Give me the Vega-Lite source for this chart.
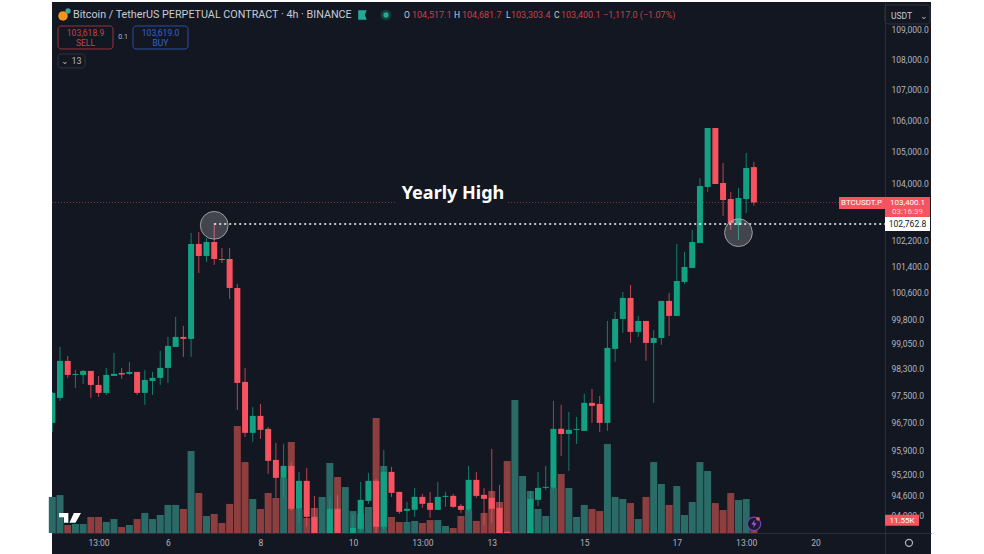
{
  "$schema": "https://vega.github.io/schema/vega-lite/v6.json",
  "width": 879,
  "height": 552,
  "padding": {"left": 52, "top": 2, "right": 53, "bottom": 0},
  "autosize": {"type": "none"},
  "background": "#ffffff",
  "view": {"fill": "#131722", "stroke": null},
  "config": {
    "text": {"font": "Roboto"},
    "axis": {"labelFont": "Roboto", "labelFontSize": 8.5, "labelColor": "#b2b5be", "grid": false, "ticks": false, "title": null, "domainColor": "#2a2e39"}
  },
  "datasets": {
    "candles": [
      {"t":"2025-01-03T13:00Z","open":96698,"high":97613,"low":96434,"close":97583,"volume":32.0},
      {"t":"2025-01-03T17:00Z","open":97435,"high":98958,"low":97347,"close":98537,"volume":33.7},
      {"t":"2025-01-03T21:00Z","open":98537,"high":98687,"low":98029,"close":98118,"volume":7.1},
      {"t":"2025-01-04T01:00Z","open":98118,"high":98268,"low":97731,"close":98148,"volume":8.0},
      {"t":"2025-01-04T05:00Z","open":98118,"high":98268,"low":97850,"close":98238,"volume":8.0},
      {"t":"2025-01-04T09:00Z","open":98238,"high":98238,"low":97435,"close":97820,"volume":14.2},
      {"t":"2025-01-04T13:00Z","open":97820,"high":98088,"low":97465,"close":97583,"volume":14.2},
      {"t":"2025-01-04T17:00Z","open":97583,"high":98328,"low":97524,"close":98118,"volume":9.8},
      {"t":"2025-01-04T21:00Z","open":98088,"high":98778,"low":98088,"close":98148,"volume":12.4},
      {"t":"2025-01-05T01:00Z","open":98178,"high":98328,"low":98000,"close":98130,"volume":5.3},
      {"t":"2025-01-05T05:00Z","open":98148,"high":98507,"low":98118,"close":98208,"volume":7.1},
      {"t":"2025-01-05T09:00Z","open":98208,"high":98208,"low":97524,"close":97583,"volume":12.4},
      {"t":"2025-01-05T13:00Z","open":97583,"high":98268,"low":97229,"close":97969,"volume":17.8},
      {"t":"2025-01-05T17:00Z","open":97939,"high":98208,"low":97524,"close":98029,"volume":12.4},
      {"t":"2025-01-05T21:00Z","open":98029,"high":98838,"low":97820,"close":98328,"volume":16.0},
      {"t":"2025-01-06T01:00Z","open":98328,"high":99259,"low":97880,"close":98988,"volume":24.9},
      {"t":"2025-01-06T05:00Z","open":98958,"high":99864,"low":98958,"close":99259,"volume":24.9},
      {"t":"2025-01-06T09:00Z","open":99259,"high":99591,"low":98657,"close":99198,"volume":21.3},
      {"t":"2025-01-06T13:00Z","open":99198,"high":102446,"low":98657,"close":102104,"volume":72.8},
      {"t":"2025-01-06T17:00Z","open":102104,"high":102477,"low":101208,"close":101732,"volume":35.5},
      {"t":"2025-01-06T21:00Z","open":101732,"high":102290,"low":101546,"close":102166,"volume":15.1},
      {"t":"2025-01-07T01:00Z","open":102166,"high":102757,"low":101454,"close":101639,"volume":16.9},
      {"t":"2025-01-07T05:00Z","open":101639,"high":101980,"low":101516,"close":101608,"volume":8.9},
      {"t":"2025-01-07T09:00Z","open":101639,"high":101980,"low":100412,"close":100747,"volume":25.8},
      {"t":"2025-01-07T13:00Z","open":100747,"high":100870,"low":97081,"close":97880,"volume":95.0},
      {"t":"2025-01-07T17:00Z","open":97910,"high":98328,"low":96287,"close":96405,"volume":63.0},
      {"t":"2025-01-07T21:00Z","open":96405,"high":97170,"low":96141,"close":96904,"volume":30.2},
      {"t":"2025-01-08T01:00Z","open":96904,"high":97258,"low":96229,"close":96493,"volume":21.3},
      {"t":"2025-01-08T05:00Z","open":96522,"high":96581,"low":95210,"close":95587,"volume":35.5},
      {"t":"2025-01-08T09:00Z","open":95616,"high":96112,"low":94519,"close":95095,"volume":31.1},
      {"t":"2025-01-08T13:00Z","open":95095,"high":96082,"low":94547,"close":95442,"volume":48.8},
      {"t":"2025-01-08T17:00Z","open":95442,"high":95558,"low":94146,"close":94204,"volume":80.8},
      {"t":"2025-01-08T21:00Z","open":94204,"high":95268,"low":93804,"close":95008,"volume":21.3},
      {"t":"2025-01-09T01:00Z","open":95008,"high":95384,"low":93691,"close":93975,"volume":13.3},
      {"t":"2025-01-09T05:00Z","open":93975,"high":94576,"low":93179,"close":93320,"volume":22.2},
      {"t":"2025-01-09T09:00Z","open":93151,"high":93491,"low":92982,"close":93320,"volume":32.0},
      {"t":"2025-01-09T13:00Z","open":93320,"high":94547,"low":93179,"close":94204,"volume":62.2},
      {"t":"2025-01-09T17:00Z","open":94204,"high":94605,"low":93179,"close":93320,"volume":49.7},
      {"t":"2025-01-09T21:00Z","open":93207,"high":93463,"low":93038,"close":93377,"volume":40.8},
      {"t":"2025-01-10T01:00Z","open":93320,"high":94032,"low":93179,"close":93662,"volume":19.5},
      {"t":"2025-01-10T05:00Z","open":93634,"high":94979,"low":93577,"close":94461,"volume":16.9},
      {"t":"2025-01-10T09:00Z","open":94432,"high":95239,"low":94347,"close":95008,"volume":23.1},
      {"t":"2025-01-10T13:00Z","open":95008,"high":95066,"low":93520,"close":93691,"volume":102.1},
      {"t":"2025-01-10T17:00Z","open":93691,"high":95907,"low":93605,"close":95268,"volume":59.5},
      {"t":"2025-01-10T21:00Z","open":95268,"high":95413,"low":94547,"close":94662,"volume":14.2},
      {"t":"2025-01-11T01:00Z","open":94691,"high":94691,"low":94061,"close":94118,"volume":9.8},
      {"t":"2025-01-11T05:00Z","open":94146,"high":94404,"low":93804,"close":94204,"volume":9.8},
      {"t":"2025-01-11T09:00Z","open":94175,"high":94806,"low":93975,"close":94547,"volume":10.7},
      {"t":"2025-01-11T13:00Z","open":94547,"high":94634,"low":94232,"close":94347,"volume":8.9},
      {"t":"2025-01-11T17:00Z","open":94375,"high":94691,"low":93946,"close":94175,"volume":11.5},
      {"t":"2025-01-11T21:00Z","open":94175,"high":94979,"low":94175,"close":94547,"volume":11.5},
      {"t":"2025-01-12T01:00Z","open":94547,"high":94691,"low":94261,"close":94576,"volume":6.2},
      {"t":"2025-01-12T05:00Z","open":94576,"high":94634,"low":94232,"close":94261,"volume":4.4},
      {"t":"2025-01-12T09:00Z","open":94289,"high":94347,"low":94089,"close":94175,"volume":15.1},
      {"t":"2025-01-12T13:00Z","open":94175,"high":95442,"low":94118,"close":95037,"volume":20.4},
      {"t":"2025-01-12T17:00Z","open":95037,"high":95268,"low":94519,"close":94576,"volume":10.7},
      {"t":"2025-01-12T21:00Z","open":94605,"high":94806,"low":93747,"close":94490,"volume":17.8},
      {"t":"2025-01-13T01:00Z","open":94519,"high":95936,"low":93804,"close":94204,"volume":37.3},
      {"t":"2025-01-13T05:00Z","open":94232,"high":94893,"low":93320,"close":93406,"volume":27.5},
      {"t":"2025-01-13T09:00Z","open":93548,"high":93548,"low":93179,"close":93377,"volume":63.9},
      {"t":"2025-01-13T13:00Z","open":93207,"high":93491,"low":92982,"close":93300,"volume":118.1},
      {"t":"2025-01-13T17:00Z","open":93207,"high":93463,"low":93038,"close":93320,"volume":50.6},
      {"t":"2025-01-13T21:00Z","open":93463,"high":94720,"low":93320,"close":94490,"volume":37.3},
      {"t":"2025-01-14T01:00Z","open":94461,"high":95268,"low":94289,"close":94806,"volume":21.3},
      {"t":"2025-01-14T05:00Z","open":94806,"high":95442,"low":94749,"close":94835,"volume":15.1},
      {"t":"2025-01-14T09:00Z","open":94806,"high":97347,"low":94749,"close":96522,"volume":40.0},
      {"t":"2025-01-14T13:00Z","open":96522,"high":97229,"low":95733,"close":96375,"volume":52.4},
      {"t":"2025-01-14T17:00Z","open":96375,"high":97022,"low":95297,"close":96493,"volume":40.0},
      {"t":"2025-01-14T21:00Z","open":96493,"high":96874,"low":96082,"close":96522,"volume":14.2},
      {"t":"2025-01-15T01:00Z","open":96463,"high":97554,"low":96463,"close":97288,"volume":24.9},
      {"t":"2025-01-15T05:00Z","open":97288,"high":97702,"low":96698,"close":97199,"volume":21.3},
      {"t":"2025-01-15T09:00Z","open":97258,"high":97494,"low":96434,"close":96698,"volume":19.5},
      {"t":"2025-01-15T13:00Z","open":96698,"high":99742,"low":96463,"close":98928,"volume":79.0},
      {"t":"2025-01-15T17:00Z","open":98898,"high":100016,"low":98507,"close":99802,"volume":32.0},
      {"t":"2025-01-15T21:00Z","open":99802,"high":100625,"low":99380,"close":100442,"volume":30.2},
      {"t":"2025-01-16T01:00Z","open":100442,"high":100839,"low":99078,"close":99410,"volume":26.6},
      {"t":"2025-01-16T05:00Z","open":99410,"high":99894,"low":99259,"close":99742,"volume":12.4},
      {"t":"2025-01-16T09:00Z","open":99742,"high":99742,"low":98537,"close":99078,"volume":32.0},
      {"t":"2025-01-16T13:00Z","open":99078,"high":99470,"low":97288,"close":99228,"volume":63.0},
      {"t":"2025-01-16T17:00Z","open":99228,"high":100351,"low":99018,"close":100351,"volume":43.5},
      {"t":"2025-01-16T21:00Z","open":100351,"high":100594,"low":99289,"close":99894,"volume":24.9},
      {"t":"2025-01-17T01:00Z","open":99894,"high":102104,"low":99894,"close":100961,"volume":41.7},
      {"t":"2025-01-17T05:00Z","open":100931,"high":101856,"low":100870,"close":101392,"volume":16.0},
      {"t":"2025-01-17T09:00Z","open":101362,"high":102539,"low":101362,"close":102166,"volume":27.5},
      {"t":"2025-01-17T13:00Z","open":102135,"high":104173,"low":102135,"close":103919,"volume":63.0},
      {"t":"2025-01-17T17:00Z","open":103888,"high":105768,"low":103730,"close":105768,"volume":55.1},
      {"t":"2025-01-17T21:00Z","open":105768,"high":105768,"low":103982,"close":103982,"volume":26.6},
      {"t":"2025-01-18T01:00Z","open":104014,"high":104649,"low":102976,"close":103478,"volume":20.4},
      {"t":"2025-01-18T05:00Z","open":103510,"high":103730,"low":102539,"close":102757,"volume":35.5},
      {"t":"2025-01-18T09:00Z","open":102695,"high":103856,"low":102228,"close":103541,"volume":29.3},
      {"t":"2025-01-18T13:00Z","open":103510,"high":104967,"low":103070,"close":104490,"volume":30.2},
      {"t":"2025-01-18T17:00Z","open":104517.1,"high":104681.7,"low":103303.4,"close":103400.1,"volume":11.55}
    ]
  },
  "data": {"name": "candles"},
  "encoding": {
    "x": {
      "field": "t",
      "type": "temporal",
      "scale": {"type": "utc", "domain": [1735908638400, 1737550368000], "nice": false, "padding": 0},
      "axis": {
        "orient": "bottom",
        "offset": -21,
        "zindex": 1,
        "labelPadding": 5,
        "labelFlush": false,
        "values": [1735995600000, 1736125200000, 1736298000000, 1736470800000, 1736600400000, 1736730000000, 1736902800000, 1737075600000, 1737205200000, 1737334800000],
        "labelExpr": "utchours(datum.value) == 13 ? '13:00' : utcdate(datum.value)"
      }
    }
  },
  "resolve": {"scale": {"y": "independent"}, "axis": {"y": "independent"}},
  "layer": [
    {
      "mark": {"type": "bar", "size": 7},
      "encoding": {
        "y": {
          "field": "volume",
          "type": "quantitative",
          "stack": null,
          "axis": null,
          "scale": {"domain": [-18.65, 471.5], "nice": false, "zero": false}
        },
        "color": {
          "condition": {"test": "datum.close >= datum.open", "value": "#2a6b67"},
          "value": "#8d3f40"
        }
      }
    },
    {
      "encoding": {
        "y": {
          "field": "price",
          "type": "quantitative",
          "scale": {"type": "log", "domain": [92919, 109898.5], "nice": false, "zero": false},
          "axis": {
            "orient": "right",
            "offset": -46,
            "labelPadding": 6,
            "format": ",.1f",
            "labelOverlap": false,
            "values": [109000, 108000, 107000, 106000, 105000, 104000, 102200, 101400, 100600, 99800, 99050, 98300, 97500, 96700, 95900, 95200, 94600, 94000]
          }
        }
      },
      "layer": [
        {
          "data": {"values": [
            {"t": 1735908638400, "t2": 1736552998000, "price": 103400.1},
            {"t": 1736760313000, "t2": 1737464437000, "price": 103400.1}
          ]},
          "mark": {"type": "rule", "color": "#7a3a42", "strokeWidth": 1, "strokeDash": [1, 2]},
          "encoding": {"x2": {"field": "t2"}}
        },
        {
          "mark": {"type": "rule", "strokeWidth": 1, "opacity": 0.75, "clip": true},
          "encoding": {
            "y": {"field": "low", "type": "quantitative"},
            "y2": {"field": "high"},
            "color": {
              "condition": {"test": "datum.close >= datum.open", "value": "#12a283"},
              "value": "#f7525f"
            }
          }
        },
        {
          "mark": {"type": "bar", "size": 6, "clip": true},
          "encoding": {
            "y": {"field": "open", "type": "quantitative"},
            "y2": {"field": "close"},
            "color": {
              "condition": {"test": "datum.close >= datum.open", "value": "#12a283"},
              "value": "#f7525f"
            }
          }
        },
        {
          "data": {"values": [
            {"t": 1735908638400, "t2": 1737464437000, "lo": 92919, "hi": 93513}
          ]},
          "mark": {"type": "rect", "color": "#131722"},
          "encoding": {
            "x2": {"field": "t2"},
            "y": {"field": "lo", "type": "quantitative"},
            "y2": {"field": "hi"}
          }
        },
        {
          "data": {"values": [
            {"t": 1736211600000, "t2": 1737464437000, "price": 102726}
          ]},
          "mark": {"type": "rule", "color": "#ffffff", "strokeWidth": 1.5, "strokeDash": [2, 3]},
          "encoding": {"x2": {"field": "t2"}}
        },
        {
          "data": {"values": [
            {"t": 1736211600000, "price": 102685},
            {"t": 1737190800000, "price": 102455}
          ]},
          "mark": {"type": "point", "filled": true, "shape": "circle", "size": 770, "fill": "#ffffff", "fillOpacity": 0.2, "stroke": "#a8a8ad", "strokeWidth": 1, "strokeOpacity": 0.9}
        },
        {
          "data": {"values": [
            {"t": 1737378523000, "t2": 1737464437000, "hi": 103573, "lo": 103195, "kind": "red"},
            {"t": 1737464437000, "t2": 1737548483000, "hi": 103573, "lo": 102944, "kind": "red"},
            {"t": 1737464437000, "t2": 1737548483000, "hi": 102944, "lo": 102508, "kind": "white"},
            {"t": 1737464437000, "t2": 1737527939000, "hi": 94032, "lo": 93719, "kind": "red"}
          ]},
          "mark": {"type": "rect"},
          "encoding": {
            "x2": {"field": "t2"},
            "y": {"field": "lo", "type": "quantitative"},
            "y2": {"field": "hi"},
            "color": {"field": "kind", "type": "nominal", "legend": null, "scale": {"domain": ["red", "white"], "range": ["#f7525f", "#ffffff"]}}
          }
        },
        {
          "data": {"values": [
            {"t": 1735919846000, "t2": 1736022570000, "hi": 109100, "lo": 108340, "kind": "sell"},
            {"t": 1736059924000, "t2": 1736162647000, "hi": 109100, "lo": 108340, "kind": "buy"},
            {"t": 1735919846000, "t2": 1735970274000, "hi": 108175, "lo": 107718, "kind": "more"},
            {"t": 1737464437000, "t2": 1737548483000, "hi": 109798, "lo": 109166, "kind": "more"}
          ]},
          "mark": {"type": "rect", "fillOpacity": 0, "cornerRadius": 3, "strokeWidth": 1},
          "encoding": {
            "x2": {"field": "t2"},
            "y": {"field": "lo", "type": "quantitative"},
            "y2": {"field": "hi"},
            "stroke": {"field": "kind", "type": "nominal", "legend": null, "scale": {"domain": ["sell", "buy", "more"], "range": ["#9c323c", "#2b4fa3", "#2f333f"]}}
          }
        },
        {
          "data": {"values": [{"t": 1736657589000, "price": 103667, "label": "Yearly High"}]},
          "mark": {"type": "text", "font": "Noto Sans", "fontWeight": "bold", "fontSize": 18, "color": "#ffffff", "align": "center", "baseline": "middle"},
          "encoding": {"text": {"field": "label"}}
        },
        {
          "data": {"values": [{"t": 1735947861000, "price": 109465, "label": "Bitcoin / TetherUS PERPETUAL CONTRACT · 4h · BINANCE"}]},
          "mark": {"type": "text", "fontSize": 10.75, "color": "#c8cbd3", "align": "left", "baseline": "middle"},
          "encoding": {"text": {"field": "label"}}
        },
        {
          "data": {"values": [
            {"t": 1736566071000, "price": 109465, "label": "O"},
            {"t": 1736659457000, "price": 109465, "label": "H"},
            {"t": 1736756577000, "price": 109465, "label": "L"},
            {"t": 1736846227000, "price": 109465, "label": "C"},
            {"t": 1737475644000, "price": 109433, "label": "USDT"}
          ]},
          "mark": {"type": "text", "fontSize": 8.5, "color": "#c8cbd3", "align": "left", "baseline": "middle"},
          "encoding": {"text": {"field": "label"}}
        },
        {
          "data": {"values": [
            {"t": 1736581013000, "price": 109465, "label": "104,517.1"},
            {"t": 1736674398000, "price": 109465, "label": "104,681.7"},
            {"t": 1736765916000, "price": 109465, "label": "103,303.4"},
            {"t": 1736859301000, "price": 109465, "label": "103,400.1"},
            {"t": 1736937844000, "price": 109465, "label": "−1,117.0 (−1.07%)"}
          ]},
          "mark": {"type": "text", "fontSize": 9, "color": "#c9404f", "align": "left", "baseline": "middle"},
          "encoding": {"text": {"field": "label"}}
        },
        {
          "data": {"values": [
            {"t": 1735971208000, "price": 108868, "label": "103,618.9"},
            {"t": 1735971208000, "price": 108537, "label": "SELL"}
          ]},
          "mark": {"type": "text", "fontSize": 8.5, "color": "#c9404f", "align": "center", "baseline": "middle"},
          "encoding": {"text": {"field": "label"}}
        },
        {
          "data": {"values": [
            {"t": 1736111286000, "price": 108868, "label": "103,619.0"},
            {"t": 1736111286000, "price": 108537, "label": "BUY"}
          ]},
          "mark": {"type": "text", "fontSize": 8.5, "color": "#3763c8", "align": "center", "baseline": "middle"},
          "encoding": {"text": {"field": "label"}}
        },
        {
          "data": {"values": [{"t": 1736041247000, "price": 108720, "label": "0.1"}]},
          "mark": {"type": "text", "fontSize": 7, "color": "#b2b5be", "align": "center", "baseline": "middle"},
          "encoding": {"text": {"field": "label"}}
        },
        {
          "data": {"values": [
            {"t": 1735945000000, "price": 107945, "label": "⌄ 13"},
            {"t": 1737537277000, "price": 109433, "label": "⌄"}
          ]},
          "mark": {"type": "text", "fontSize": 9, "color": "#b2b5be", "align": "center", "baseline": "middle"},
          "encoding": {"text": {"field": "label"}}
        },
        {
          "data": {"values": [
            {"t": 1737420545000, "price": 103384, "label": "BTCUSDT.P"},
            {"t": 1737506460000, "price": 103384, "label": "103,400.1"},
            {"t": 1737496187000, "price": 93861, "label": "11.55K"}
          ]},
          "mark": {"type": "text", "fontSize": 8, "color": "#ffffff", "align": "center", "baseline": "middle"},
          "encoding": {"text": {"field": "label"}}
        },
        {
          "data": {"values": [{"t": 1737506460000, "price": 103101, "label": "03:16:39"}]},
          "mark": {"type": "text", "fontSize": 8, "color": "#ffd5d8", "align": "center", "baseline": "middle"},
          "encoding": {"text": {"field": "label"}}
        },
        {
          "data": {"values": [{"t": 1737506460000, "price": 102726, "label": "102,762.8"}]},
          "mark": {"type": "text", "fontSize": 8.5, "color": "#131722", "align": "center", "baseline": "middle"},
          "encoding": {"text": {"field": "label"}}
        },
        {
          "data": {"values": [{"t": 1735929184000, "price": 109433}]},
          "mark": {"type": "point", "filled": true, "shape": "circle", "size": 90, "color": "#f7931a", "opacity": 1}
        },
        {
          "data": {"values": [{"t": 1735938523000, "price": 109598}]},
          "mark": {"type": "point", "filled": true, "shape": "circle", "size": 28, "color": "#3fa7a0", "opacity": 1}
        },
        {
          "data": {"values": [{"t": 1736487628000, "price": 109465}]},
          "mark": {"type": "point", "filled": true, "shape": "M-0.8 -1H1L0.6 0L1 1H-0.8Z", "size": 90, "color": "#22ab94", "opacity": 1}
        },
        {
          "data": {"values": [{"t": 1736532453000, "price": 109465}]},
          "mark": {"type": "point", "filled": true, "shape": "circle", "size": 120, "color": "#123d38", "opacity": 1}
        },
        {
          "data": {"values": [{"t": 1736532453000, "price": 109465}]},
          "mark": {"type": "point", "filled": true, "shape": "circle", "size": 28, "color": "#22ab94", "opacity": 1}
        },
        {
          "data": {"values": [{"t": 1735942258000, "price": 93946}]},
          "mark": {"type": "point", "filled": true, "shape": "M-1 -0.45H-0.15V0.45H-0.55V-0.05H-1ZM0.35 -0.45H1L0.5 0.45H-0.05Z", "size": 484, "color": "#ffffff", "opacity": 1}
        },
        {
          "data": {"values": [{"t": 1737219768000, "price": 93775}]},
          "mark": {"type": "point", "shape": "circle", "size": 180, "fill": "#1c1a33", "fillOpacity": 1, "stroke": "#7a3fc0", "strokeWidth": 1.2, "opacity": 1}
        },
        {
          "data": {"values": [{"t": 1737219768000, "price": 93775}]},
          "mark": {"type": "point", "filled": true, "shape": "M0.2 -1L-0.6 0.15H-0.05L-0.2 1L0.6 -0.15H0.05Z", "size": 70, "color": "#9a5fe0", "opacity": 1}
        },
        {
          "data": {"values": [{"t": 1737227244000, "price": 93918}]},
          "mark": {"type": "point", "filled": true, "shape": "circle", "size": 14, "color": "#f7525f", "opacity": 1}
        },
        {
          "data": {"values": [{"t": 1737509262000, "price": 93235}]},
          "mark": {"type": "point", "shape": "circle", "size": 50, "fillOpacity": 0, "stroke": "#b2b5be", "strokeWidth": 1.2, "opacity": 1}
        }
      ]
    }
  ]
}
